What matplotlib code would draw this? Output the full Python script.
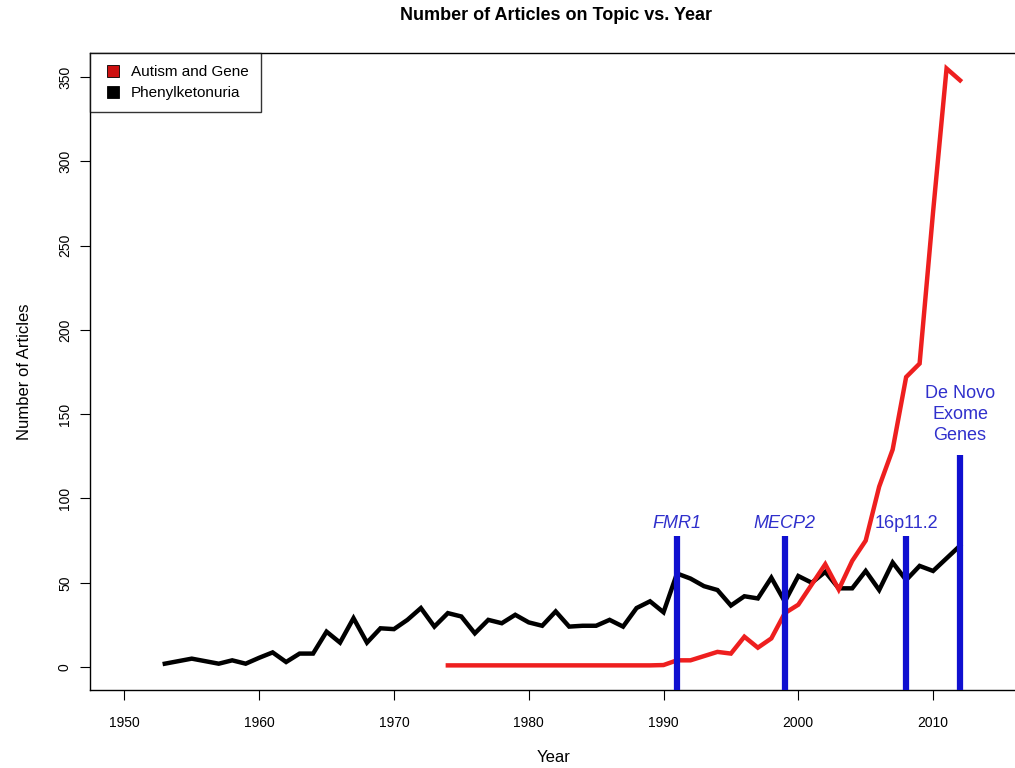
import matplotlib
matplotlib.use("Agg")
import matplotlib.pyplot as plt
from matplotlib.lines import Line2D
import numpy as np

plt.rcParams['font.family'] = ['Liberation Sans', 'DejaVu Sans']

# Phenylketonuria articles per year (1953-2012)
pku_years = list(range(1953, 2013))
pku_counts = [2, 3.5, 5, 3.5, 2, 4, 2, 5.5, 8.7, 3,
              8, 8, 21, 14.5, 29, 14.5, 23, 22.5, 28, 35,
              24, 32, 30, 20, 28, 26, 31, 26.5, 24.5, 33,
              24, 24.5, 24.5, 28, 24, 35, 39, 32.5, 55.5, 52.5,
              48, 45.7, 36.5, 42, 40.7, 53, 38.8, 54, 50, 56.5,
              46.7, 46.7, 57, 45.7, 62, 51.6, 60, 57, 64.5, 72]

# Autism and Gene articles per year (1974-2012)
aut_years = list(range(1974, 2013))
aut_counts = [1, 1, 1, 1, 1, 1, 1, 1, 1, 1,
              1, 1, 1, 1, 1, 1, 1.2, 4, 4, 6.5,
              9, 8, 18, 11.5, 17, 32, 37, 49, 61, 46,
              63, 75, 107, 129, 172, 180, 270, 355, 348]

# Discovery markers
event_years = [1991, 1999, 2008, 2012]
event_heights = [78, 78, 78, 126]
event_labels = ["FMR1", "MECP2", "16p11.2", "De Novo\nExome\nGenes"]
event_styles = ["italic", "italic", "normal", "normal"]
event_label_y = [85, 85, 85, 150]

legend_labels = ["Autism and Gene", "Phenylketonuria"]
red = "#ee1f1f"
blue = "#1010d0"
text_blue = "#3030cc"

fig = plt.figure(figsize=(10.15, 7.68), dpi=100)
ax = fig.add_axes([90/1015, 1-690/768, (1018-90)/1015, (690-53)/768])

ax.plot(pku_years, pku_counts, color="black", lw=3.2, solid_joinstyle="miter", zorder=2)
ax.plot(aut_years, aut_counts, color=red, lw=3.2, solid_joinstyle="miter", zorder=3)

ax.set_xlim(1947.45, 2016.3)
ax.set_ylim(-13.6, 364.2)
ymin = ax.get_ylim()[0]
for yr, h, lab, st, ly in zip(event_years, event_heights, event_labels, event_styles, event_label_y):
    ax.vlines(yr, ymin, h, color=blue, lw=4.5, zorder=4)
    ax.text(yr, ly, lab, color=text_blue, fontsize=13, style=st,
            ha="center", va="center", linespacing=1.3, zorder=5)

ax.set_xticks(np.arange(1950, 2011, 10))
ax.set_yticks(np.arange(0, 351, 50))
ax.tick_params(axis="both", direction="out", length=7, width=0.8, labelsize=10, color="black")
ax.tick_params(axis="x", pad=12)
ax.tick_params(axis="y", pad=6)
for lab in ax.get_yticklabels():
    lab.set_rotation(90)
    lab.set_va("center")

for sp in ax.spines.values():
    sp.set_linewidth(1.0)

ax.set_xlabel("Year", fontsize=12, labelpad=14)
ax.set_ylabel("Number of Articles", fontsize=12)
ax.yaxis.set_label_coords(-(90 - 32) / (1018 - 90), 0.5)
fig.text(556/1015, 1-16/768, "Number of Articles on Topic vs. Year",
         fontsize=13, fontweight="bold", ha="center", va="center")

handles = [Line2D([], [], marker="s", color="none", markerfacecolor=c,
                  markeredgecolor="black", markeredgewidth=0.6, markersize=9)
           for c in ["#cc1010", "black"]]
leg = ax.legend(handles, legend_labels, loc="upper left", fontsize=11,
                borderaxespad=0, frameon=True, fancybox=False,
                handletextpad=0.5, handlelength=1.4, labelspacing=0.45,
                borderpad=0.8)
leg.get_frame().set_edgecolor("black")
leg.get_frame().set_linewidth(1.0)

fig.savefig("out.png", dpi=100)
